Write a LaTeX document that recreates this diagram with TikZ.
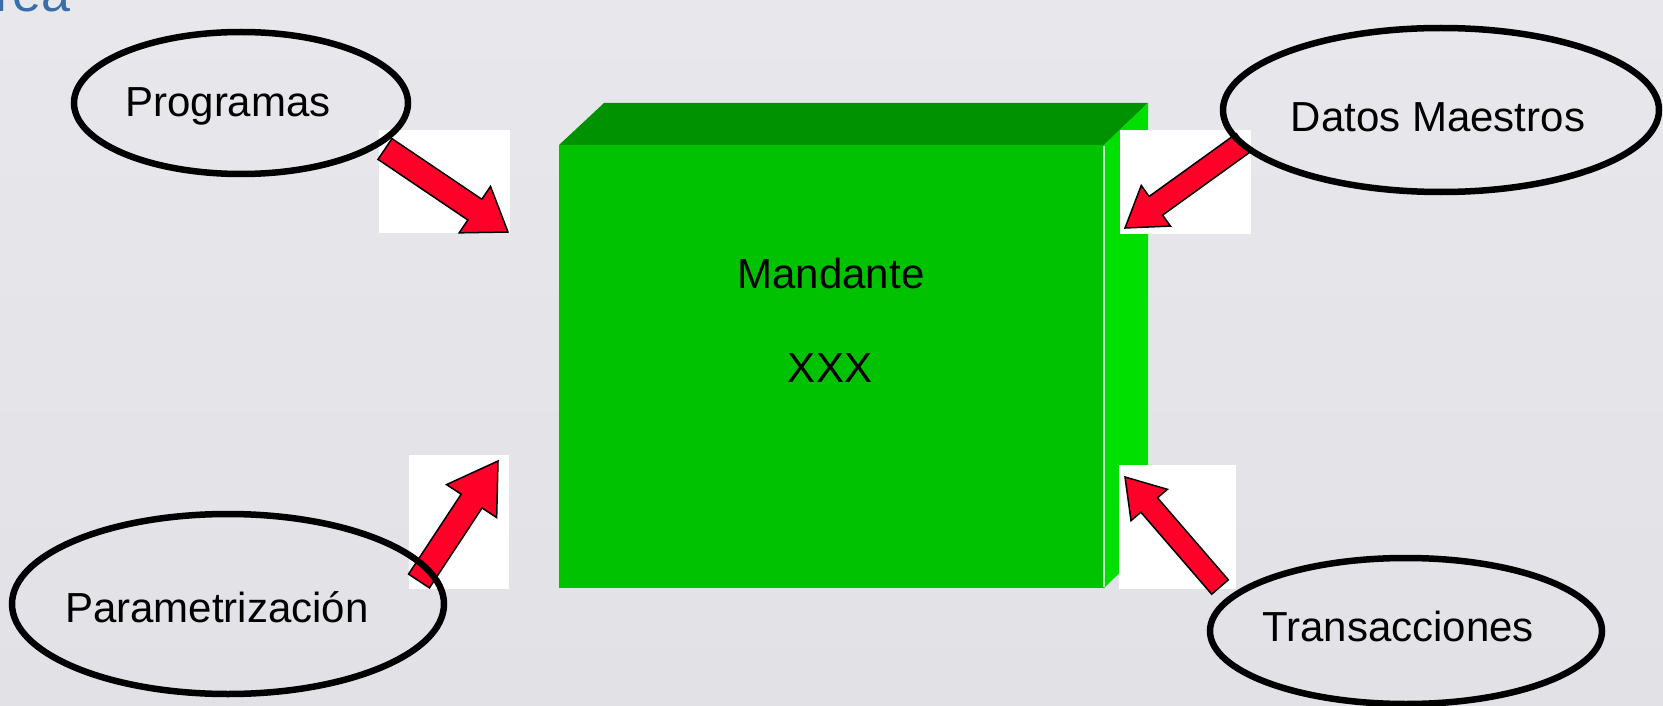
\documentclass[tikz,border=0pt]{standalone}
\usepackage{fontspec}
\setmainfont{Liberation Sans}
\usetikzlibrary{shapes.geometric,calc}
\definecolor{bgA}{RGB}{232,232,236}
\definecolor{bgB}{RGB}{242,242,244}
\definecolor{bgC}{RGB}{226,226,230}
\definecolor{topg}{RGB}{0,146,0}
\definecolor{frontg}{RGB}{0,194,0}
\definecolor{sideg}{RGB}{0,224,0}
\definecolor{edgeg}{RGB}{190,245,190}
\definecolor{arrred}{RGB}{255,0,40}
\definecolor{titleblue}{RGB}{58,110,168}
\newcommand\redarrow[5]{%
  \coordinate (ab) at ($(#2)!#5!(#1)$);
  \draw[redarr] ($(#1)!#3!90:(#2)$) -- ($(ab)!#3!90:(#2)$) -- ($(ab)!#4!90:(#2)$) -- (#2)
    -- ($(ab)!#4!-90:(#2)$) -- ($(ab)!#3!-90:(#2)$) -- ($(#1)!#3!-90:(#2)$) -- cycle;}
\begin{document}
\begin{tikzpicture}[x=1pt,y=-1pt,
  oval/.style={ellipse,draw=black,line width=6.5pt,inner sep=0pt},
  lbl/.style={font=\fontsize{42}{50}\selectfont,anchor=base,inner sep=0pt},
  redarr/.style={fill=arrred,draw=black,line width=1.5pt,line join=miter},
  whitebox/.style={fill=white}]
\useasboundingbox (0,0) rectangle (1663,706);
\clip (0,0) rectangle (1663,706);
\shade[top color=bgA,middle color=bgB,bottom color=bgC] (0,0) rectangle (1663,706);
% title fragment
\node[font=\fontsize{52}{60}\selectfont,text=titleblue,anchor=base east,inner sep=0pt] (title) at (71,12) {rea};
% box
\fill[topg] (559,145) -- (604,103) -- (1148,103) -- (1104,145) -- cycle;
\fill[sideg] (1104,145) -- (1148,103) -- (1148,545) -- (1104,588) -- cycle;
\fill[frontg] (559,145) rectangle (1104,588);
\draw[edgeg,line width=1.5pt] (1104,146) -- (1104,587);
\node[lbl] (mand) at (831,288) {Mandante};
\node[lbl] (xxx) at (830,382) {XXX};
% white boxes
\fill[whitebox] (379,130) rectangle (510,233);
\fill[whitebox] (1120,130) rectangle (1251,234);
\fill[whitebox] (409,455) rectangle (509,589);
\fill[whitebox] (1119,465) rectangle (1236,589);
% arrows
\coordinate (a1t) at (385,149); \coordinate (a1h) at (508,232);
\coordinate (a2t) at (1243,143); \coordinate (a2h) at (1125,228);
\coordinate (a3t) at (419,581); \coordinate (a3h) at (498,461);
\coordinate (a4t) at (1220,587); \coordinate (a4h) at (1125,477);
\redarrow{a1t}{a1h}{12.5pt}{28pt}{40pt}
\redarrow{a2t}{a2h}{11.5pt}{25pt}{38pt}
\redarrow{a3t}{a3h}{12.5pt}{30pt}{48pt}
\redarrow{a4t}{a4h}{11pt}{24pt}{37pt}
% ovals
\node[oval,minimum width=334pt,minimum height=142pt] (e1) at (241,103) {};
\node[oval,minimum width=436pt,minimum height=164pt] (e2) at (1441,110) {};
\node[oval,minimum width=432pt,minimum height=180pt] (e3) at (228,604) {};
\node[oval,minimum width=392pt,minimum height=146pt] (e4) at (1406,631) {};
\node[lbl] (t1) at (228,117) {Programas};
\node[lbl] (t2) at (1438,132) {Datos Maestros};
\node[lbl] (t3) at (217,622) {Parametrización};
\node[lbl] (t4) at (1398,641) {Transacciones};
\end{tikzpicture}
\end{document}
